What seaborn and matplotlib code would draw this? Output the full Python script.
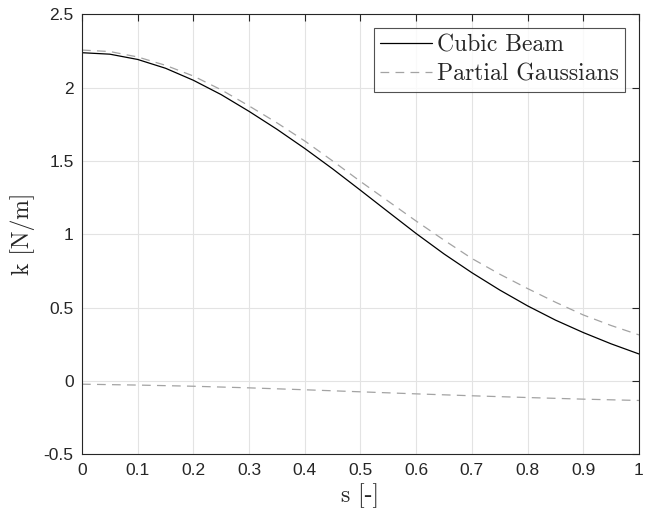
import numpy as np
import pandas as pd
import seaborn as sns
import matplotlib
matplotlib.use("Agg")
import matplotlib.pyplot as plt

# Stiffness along the normalised coordinate s
s_vals = [0.0, 0.05, 0.1, 0.15, 0.2, 0.25, 0.3, 0.35, 0.4, 0.45, 0.5,
          0.55, 0.6, 0.65, 0.7, 0.75, 0.8, 0.85, 0.9, 0.95, 1.0]
cubic_beam = [2.238, 2.228, 2.192, 2.132, 2.050, 1.952, 1.838, 1.716, 1.585, 1.446, 1.300,
              1.152, 1.005, 0.866, 0.738, 0.620, 0.512, 0.415, 0.330, 0.253, 0.184]
partial_gauss_upper = [2.256, 2.246, 2.209, 2.152, 2.079, 1.985, 1.875, 1.760, 1.636, 1.500, 1.360,
                       1.225, 1.090, 0.960, 0.835, 0.728, 0.630, 0.537, 0.450, 0.378, 0.314]
s_low = [0.0, 0.1, 0.2, 0.3, 0.4, 0.5, 0.6, 0.7, 0.8, 0.9, 1.0]
partial_gauss_lower = [-0.022, -0.028, -0.036, -0.047, -0.060, -0.074, -0.088, -0.101, -0.113, -0.124, -0.133]

x_ticks = [0, 0.1, 0.2, 0.3, 0.4, 0.5, 0.6, 0.7, 0.8, 0.9, 1]
x_tick_labels = ["0", "0.1", "0.2", "0.3", "0.4", "0.5", "0.6", "0.7", "0.8", "0.9", "1"]
y_ticks = [-0.5, 0, 0.5, 1, 1.5, 2, 2.5]
y_tick_labels = ["-0.5", "0", "0.5", "1", "1.5", "2", "2.5"]

sns.set_theme(style="white")
plt.rcParams["font.family"] = ["Liberation Sans", "DejaVu Sans"]

fig = plt.figure(figsize=(6.65, 5.12), dpi=100)
ax = fig.add_axes([0.1233, 0.1127, 0.8376, 0.8594])

df_cb = pd.DataFrame({"s": s_vals, "k": cubic_beam})
df_pu = pd.DataFrame({"s": s_vals, "k": partial_gauss_upper})
df_pl = pd.DataFrame({"s": s_low, "k": partial_gauss_lower})

gray = "#a3a3a3"
dash = [7, 5]
sns.lineplot(data=df_cb, x="s", y="k", ax=ax, color="black", lw=0.9,
             label="Cubic Beam")
sns.lineplot(data=df_pu, x="s", y="k", ax=ax, color=gray, lw=0.9,
             label="Partial Gaussians")
sns.lineplot(data=df_pl, x="s", y="k", ax=ax, color=gray, lw=0.9,
             legend=False)
ax.lines[1].set_dashes(dash)
ax.lines[2].set_dashes(dash)

ax.set_xlim(0, 1)
ax.set_ylim(-0.5, 2.5)
ax.set_xticks(x_ticks)
ax.set_xticklabels(x_tick_labels)
ax.set_yticks(y_ticks)
ax.set_yticklabels(y_tick_labels)
ax.tick_params(direction="in", length=5, width=0.8, labelsize=12.5,
               colors="#262626", top=True, right=True, pad=6)
ax.grid(True, color="#e3e3e3", lw=0.8)
for sp in ax.spines.values():
    sp.set_color("#262626")
    sp.set_linewidth(0.8)

serif = dict(family="cmr10", color="#262626")
ax.set_xlabel("s [-]", fontsize=17, labelpad=4, **serif)
ax.set_ylabel("k [N/m]", fontsize=17, labelpad=6, **serif)

leg = ax.legend(loc="upper right", frameon=True, fancybox=False,
                prop={"family": "cmr10", "size": 17},
                handlelength=2.2, handletextpad=0.2, borderpad=0.25,
                labelspacing=0.3, borderaxespad=0.6)
leg.get_frame().set_edgecolor("#262626")
leg.get_frame().set_linewidth(0.8)
leg.get_lines()[1].set_dashes(dash)

fig.savefig("out.png", dpi=100)
